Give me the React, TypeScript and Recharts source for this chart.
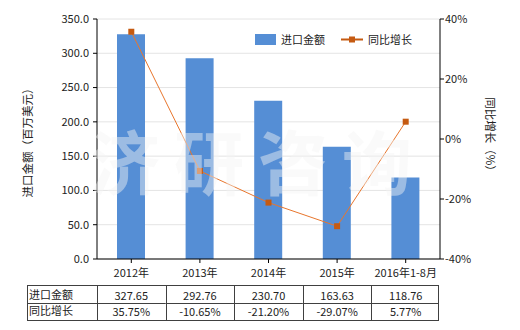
import React from 'react';
import { ComposedChart, Bar, Line, XAxis, YAxis, CartesianGrid, Legend } from 'recharts';

const years = ['2012年', '2013年', '2014年', '2015年', '2016年1-8月'];
const importValues = [327.65, 292.76, 230.7, 163.63, 118.76];
const growthValues = [35.75, -10.65, -21.2, -29.07, 5.77];
const leftTicks = [0, 50, 100, 150, 200, 250, 300, 350];
const rightTicks = [-40, -20, 0, 20, 40];
const barName = '进口金额';
const lineName = '同比增长';
const leftLabel = '进口金额（百万美元）';
const rightLabel = '同比增长（%）';
const watermark = '济研咨询';

const data = years.map((y, i) => ({ year: y, imp: importValues[i], growth: growthValues[i] }));

const FONT = '"Noto Sans CJK SC", "Noto Sans", sans-serif';
const TEXT = '#222';
const BAR = '#558ed5';
const LINE = '#e8762d';
const MARK = '#c55a11';
const W = 520;
const H = 330;
const PLOT_L = 97;
const PLOT_R = 440;
const PLOT_T = 19;
const PLOT_B = 259;
const BAND = (PLOT_R - PLOT_L) / years.length;
const BORDER = '#404040';
const ROW_T = 285.5;
const ROW_M = 303.5;
const ROW_B = 320.5;
const HEAD_L = 27;

const TableTick = (props: any) => {
  const { x, payload } = props;
  const i = payload.index;
  const half = BAND / 2;
  const l = x - half;
  const r = i === years.length - 1 ? x + half - 2 : x + half;
  return (
    <g>
      <text x={x} y={277} textAnchor="middle" fontSize={11} fill={TEXT} fontFamily={FONT}>
        {payload.value}
      </text>
      {i === 0 && (
        <g>
          <rect x={HEAD_L + 0.5} y={ROW_T} width={l - HEAD_L} height={ROW_B - ROW_T} fill="none" stroke={BORDER} />
          <line x1={HEAD_L} x2={l} y1={ROW_M} y2={ROW_M} stroke={BORDER} />
          <text x={HEAD_L + 2} y={299} fontSize={11} fill={TEXT} fontFamily={FONT}>{barName}</text>
          <text x={HEAD_L + 2} y={315} fontSize={11} fill={TEXT} fontFamily={FONT}>{lineName}</text>
        </g>
      )}
      <rect x={Math.round(l) + 0.5} y={ROW_T} width={Math.round(r) - Math.round(l)} height={ROW_B - ROW_T} fill="none" stroke={BORDER} />
      <line x1={l} x2={r} y1={ROW_M} y2={ROW_M} stroke={BORDER} />
      <text x={x} y={300} textAnchor="middle" fontSize={11} fill={TEXT} fontFamily={FONT}>
        {importValues[i].toFixed(2)}
      </text>
      <text x={x} y={316} textAnchor="middle" fontSize={11} fill={TEXT} fontFamily={FONT}>
        {growthValues[i].toFixed(2) + '%'}
      </text>
    </g>
  );
};

const SquareDot = (props: any) => {
  const { cx, cy, index } = props;
  if (cx == null || cy == null) return <g key={index} />;
  return <rect key={index} x={cx - 3} y={cy - 3} width={6} height={6} fill={MARK} />;
};

const LegendContent = () => (
  <div style={{ display: 'flex', alignItems: 'center', fontFamily: FONT, fontSize: 11, color: TEXT, whiteSpace: 'nowrap' }}>
    <span style={{ display: 'inline-block', width: 21, height: 11, background: BAR, marginRight: 5 }} />
    <span style={{ marginRight: 16 }}>{barName}</span>
    <svg width={22} height={11} style={{ marginRight: 5 }}>
      <line x1={0} x2={22} y1={5.5} y2={5.5} stroke={MARK} strokeWidth={2} />
      <rect x={8} y={2.5} width={6} height={6} fill={MARK} />
    </svg>
    <span>{lineName}</span>
  </div>
);

export default function App() {
  return (
    <div style={{ position: 'absolute', left: 0, top: 0, width: W, height: H, background: '#fff' }}>
      <ComposedChart
        width={W}
        height={H}
        data={data}
        margin={{ top: PLOT_T, right: 0, left: 0, bottom: 0 }}
      >
        <CartesianGrid yAxisId="left" vertical={false} stroke="#e4e4e4" />
        <XAxis
          dataKey="year"
          height={H - PLOT_B}
          axisLine={{ stroke: '#000' }}
          tickLine={{ stroke: '#000' }}
          tickSize={4}
          tick={<TableTick />}
          interval={0}
        />
        <YAxis
          yAxisId="left"
          width={PLOT_L}
          domain={[0, 350]}
          ticks={leftTicks}
          tickFormatter={(v: number) => v.toFixed(1)}
          axisLine={{ stroke: '#000' }}
          tickLine={{ stroke: '#000' }}
          tickSize={4}
          tickMargin={4}
          tick={{ fontSize: 11, fill: TEXT, fontFamily: FONT }}
          interval={0}
        />
        <YAxis
          yAxisId="right"
          orientation="right"
          width={W - PLOT_R}
          domain={[-40, 40]}
          ticks={rightTicks}
          tickFormatter={(v: number) => `${v}%`}
          axisLine={{ stroke: '#000' }}
          tickLine={{ stroke: '#000' }}
          tickSize={4}
          tickMargin={1}
          tick={{ fontSize: 11, fill: TEXT, fontFamily: FONT }}
          interval={0}
        />
        <Legend
          verticalAlign="middle"
          align="center"
          layout="horizontal"
          content={<LegendContent />}
          wrapperStyle={{ position: 'absolute', top: 31, left: 255, width: 'auto', height: 'auto' }}
        />
        <Bar yAxisId="left" dataKey="imp" name={barName} fill={BAR} barSize={28} isAnimationActive={false} />
        <Line
          yAxisId="right"
          dataKey="growth"
          name={lineName}
          stroke={LINE}
          strokeWidth={1}
          dot={<SquareDot />}
          activeDot={false}
          isAnimationActive={false}
        />
      </ComposedChart>
      <svg
        width={W}
        height={H}
        style={{ position: 'absolute', left: 0, top: 0, pointerEvents: 'none' }}
      >
        <text
          x={258}
          y={190}
          textAnchor="middle"
          fontSize={70}
          fontWeight="bold"
          letterSpacing={14}
          fill="#f4f4f4"
          fillOpacity={0.45}
          fontFamily={FONT}
        >
          {watermark}
        </text>
        <text
          transform={`translate(32, 140) rotate(-90)`}
          textAnchor="middle"
          fontSize={11.5}
          fill={TEXT}
          fontFamily={FONT}
        >
          {leftLabel}
        </text>
        <text
          transform={`translate(486, 137) rotate(90)`}
          textAnchor="middle"
          fontSize={11.5}
          fill={TEXT}
          fontFamily={FONT}
        >
          {rightLabel}
        </text>
      </svg>
    </div>
  );
}
